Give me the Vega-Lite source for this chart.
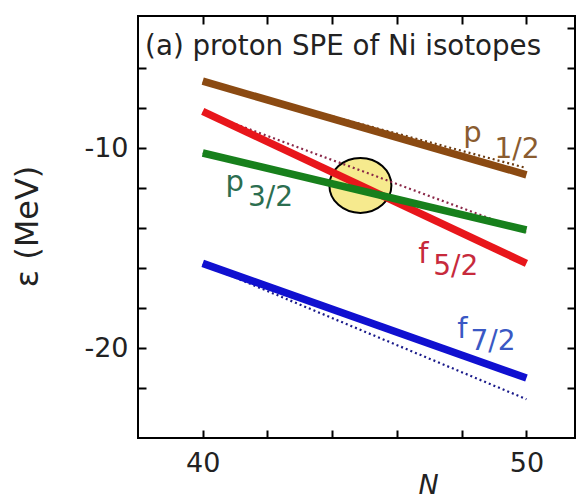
{
  "$schema": "https://vega.github.io/schema/vega-lite/v6.json",
  "width": 437,
  "height": 422,
  "autosize": "none",
  "padding": {"left": 138, "top": 16, "right": 7, "bottom": 61},
  "background": "white",
  "config": {
    "font": "DejaVu Sans",
    "view": {"stroke": "black", "strokeWidth": 2},
    "axis": {"grid": false, "domain": false, "tickColor": "black", "tickWidth": 2}
  },
  "datasets": {
    "solid": [
      {"s": "p1/2", "N": 40, "E": -6.66}, {"s": "p1/2", "N": 50, "E": -11.34},
      {"s": "f5/2", "N": 40, "E": -8.17}, {"s": "f5/2", "N": 50, "E": -15.77},
      {"s": "p3/2", "N": 40, "E": -10.25}, {"s": "p3/2", "N": 50, "E": -14.1},
      {"s": "f7/2", "N": 40, "E": -15.77}, {"s": "f7/2", "N": 50, "E": -21.5}
    ],
    "dotted": [
      {"s": "p1/2", "N": 40, "E": -6.7}, {"s": "p1/2", "N": 50, "E": -11.0},
      {"s": "f5/2", "N": 40, "E": -8.2}, {"s": "f5/2", "N": 50, "E": -14.2},
      {"s": "p3/2", "N": 40, "E": -10.25}, {"s": "p3/2", "N": 50, "E": -14.05},
      {"s": "f7/2", "N": 40, "E": -15.8}, {"s": "f7/2", "N": 50, "E": -22.56}
    ],
    "labels": [
      {"s": "p1/2", "part": "main", "N": 48.05, "E": -9.68, "t": "p"},
      {"s": "p1/2", "part": "sub", "N": 49.01, "E": -10.5, "t": "1/2"},
      {"s": "p3/2", "part": "main", "N": 40.7, "E": -12.14, "t": "p"},
      {"s": "p3/2", "part": "sub", "N": 41.4, "E": -12.92, "t": "3/2"},
      {"s": "f5/2", "part": "main", "N": 46.66, "E": -15.75, "t": "f"},
      {"s": "f5/2", "part": "sub", "N": 47.12, "E": -16.35, "t": "5/2"},
      {"s": "f7/2", "part": "main", "N": 47.86, "E": -19.51, "t": "f"},
      {"s": "f7/2", "part": "sub", "N": 48.27, "E": -20.12, "t": "7/2"}
    ],
    "circle": [{"N": 44.87, "E": -11.87}],
    "heading": [{"N": 38.22, "E": -5.37, "t": "(a) proton SPE of Ni isotopes"}]
  },
  "layer": [
    {
      "encoding": {
        "x": {
          "field": "N", "type": "quantitative",
          "scale": {"domain": [38, 51.5], "nice": false, "zero": false},
          "axis": {
            "orient": "bottom", "offset": -8, "tickSize": 8,
            "values": [40, 42, 44, 46, 48, 50],
            "labelExpr": "datum.value == 40 || datum.value == 50 ? datum.label : ''",
            "labelFontSize": 27, "labelColor": "#222", "labelPadding": 12,
            "title": "N", "titleFontStyle": "italic", "titleFontWeight": "normal",
            "titleFontSize": 27, "titleColor": "#222",
            "titleX": 290, "titleY": 63, "titleBaseline": "alphabetic"
          }
        },
        "y": {
          "field": "E", "type": "quantitative",
          "scale": {"domain": [-24.5, -3.4], "nice": false, "zero": false},
          "axis": {
            "orient": "left", "offset": -8, "tickSize": 8,
            "values": [-6, -8, -10, -12, -14, -16, -18, -20, -22],
            "labelExpr": "datum.value == -10 ? '-10' : datum.value == -20 ? '-20' : ''",
            "labelFontSize": 27, "labelColor": "#222", "labelPadding": 10,
            "title": "ε (MeV)", "titleFontWeight": "normal", "titleFontSize": 32, "titleColor": "#222",
            "titleX": -109, "titleY": 210, "titleBaseline": "alphabetic"
          }
        }
      },
      "layer": [
        {
          "data": {"name": "circle"},
          "mark": {"type": "point", "filled": true, "fill": "#f6ea8e", "stroke": "black", "strokeWidth": 2, "opacity": 1,
                   "shape": "M -1 0 A 1 0.887 0 1 0 1 0 A 1 0.887 0 1 0 -1 0 Z", "size": 3844}
        },
        {
          "data": {"name": "dotted"},
          "mark": {"type": "line", "strokeWidth": 2.2, "strokeDash": [2, 3]},
          "encoding": {
            "detail": {"field": "s"},
            "stroke": {"field": "s", "type": "nominal", "legend": null,
                       "scale": {"domain": ["p1/2", "f5/2", "p3/2", "f7/2"], "range": ["#6b3a10", "#8a2848", "#1a5a20", "#1a1a8a"]}}
          }
        },
        {
          "data": {"name": "solid"},
          "mark": {"type": "line", "strokeWidth": 7.5},
          "encoding": {
            "color": {"field": "s", "type": "nominal", "legend": null,
                      "scale": {"domain": ["p1/2", "f5/2", "p3/2", "f7/2"], "range": ["#8b4a12", "#e8161b", "#17801c", "#1010d0"]}}
          }
        },
        {
          "data": {"name": "labels"},
          "transform": [{"filter": "datum.part == 'main'"}],
          "mark": {"type": "text", "align": "left", "baseline": "alphabetic", "fontSize": 29},
          "encoding": {
            "text": {"field": "t"},
            "fill": {"field": "s", "type": "nominal", "legend": null,
                     "scale": {"domain": ["p1/2", "p3/2", "f5/2", "f7/2"], "range": ["#8a5c30", "#2c6e50", "#c72a3c", "#3a58c4"]}}
          }
        },
        {
          "data": {"name": "labels"},
          "transform": [{"filter": "datum.part == 'sub'"}],
          "mark": {"type": "text", "align": "left", "baseline": "alphabetic", "fontSize": 28},
          "encoding": {
            "text": {"field": "t"},
            "fill": {"field": "s", "type": "nominal", "legend": null}
          }
        },
        {
          "data": {"name": "heading"},
          "mark": {"type": "text", "align": "left", "baseline": "alphabetic", "fontSize": 27.7, "color": "#222"},
          "encoding": {"text": {"field": "t"}}
        }
      ]
    },
    {
      "data": {"name": "circle"},
      "mark": {"type": "point", "opacity": 0},
      "encoding": {
        "x": {
          "field": "N", "type": "quantitative",
          "scale": {"domain": [38, 51.5], "nice": false, "zero": false},
          "axis": {"orient": "top", "offset": -8, "tickSize": 8, "values": [40, 42, 44, 46, 48, 50], "labels": false, "title": null}
        },
        "y": {
          "field": "E", "type": "quantitative",
          "scale": {"domain": [-24.5, -3.4], "nice": false, "zero": false},
          "axis": {"orient": "right", "offset": -8, "tickSize": 8, "values": [-4, -6, -8, -10, -12, -14, -16, -18, -20, -22], "labels": false, "title": null}
        }
      }
    }
  ],
  "resolve": {"scale": {"x": "independent", "y": "independent"}}
}
